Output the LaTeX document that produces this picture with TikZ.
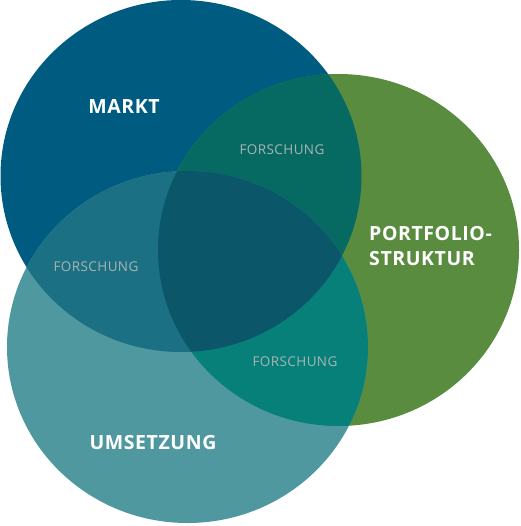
\documentclass[tikz,border=0pt]{standalone}
\usepackage{fontspec}
\setmainfont{Open Sans}
\definecolor{cMarkt}{HTML}{005B80}
\definecolor{cPort}{HTML}{5A8C3F}
\definecolor{cUms}{HTML}{5098A0}
\definecolor{cMP}{HTML}{066A62}
\definecolor{cMU}{HTML}{1B7083}
\definecolor{cPU}{HTML}{068079}
\definecolor{cAll}{HTML}{0B5668}
\definecolor{cFor}{HTML}{A9B4B4}
\tikzset{
  title/.style={text=white, font=\fontsize{19.5}{25}\selectfont\bfseries\addfontfeatures{LetterSpace=3}, inner sep=0pt},
  sub/.style={text=cFor, font=\fontsize{13.5}{15}\selectfont\addfontfeatures{LetterSpace=3}, inner sep=0pt}
}
\def\pM{(181,176) ellipse [x radius=180.5, y radius=176]}
\def\pP{(338.5,250) ellipse [x radius=180.5, y radius=176]}
\def\pU{(187.5,347) ellipse [x radius=180.5, y radius=176]}
\begin{document}
\begin{tikzpicture}[x=1pt,y=-1pt]
\useasboundingbox (0,0) rectangle (520,526);
\fill[cMarkt] \pM;
\fill[cPort] \pP;
\fill[cUms] \pU;
\begin{scope}\clip \pM; \fill[cMP] \pP; \end{scope}
\begin{scope}\clip \pM; \fill[cMU] \pU; \end{scope}
\begin{scope}\clip \pP; \fill[cPU] \pU; \end{scope}
\begin{scope}\clip \pM; \clip \pP; \fill[cAll] \pU; \end{scope}
\node[title] (markt) at (124,107) {MARKT};
\node[title, anchor=west, align=left] (port) at (369,246) {PORTFOLIO-\\STRUKTUR};
\node[title] (ums) at (153,443) {UMSETZUNG};
\node[sub] (f1) at (282,150) {FORSCHUNG};
\node[sub] (f2) at (96,267) {FORSCHUNG};
\node[sub] (f3) at (295,362) {FORSCHUNG};
\end{tikzpicture}
\end{document}
